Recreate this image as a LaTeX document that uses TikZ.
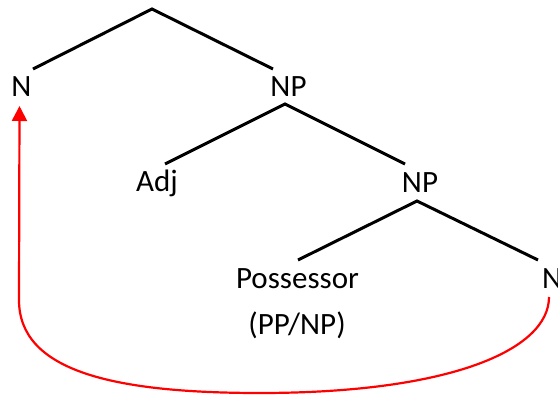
\documentclass[tikz,border=0pt]{standalone}
\usepackage{fontspec}
\setmainfont{Carlito}
\usetikzlibrary{arrows.meta}
\begin{document}
\begin{tikzpicture}[x=1pt,y=-1pt,
  lab/.style={anchor=base,inner sep=0pt,font=\fontsize{31}{37}\selectfont},
  branch/.style={line width=3pt,black},
  link/.style={red,line width=2.2pt,-{Triangle[length=15pt,width=15pt]}}]
\useasboundingbox (0,0) rectangle (558,396);
% labels
\node[lab] (nl) at (21.5,97) {N};
\node[lab] (np1) at (288.5,97) {NP};
\node[lab] (adj) at (157,192) {Adj};
\node[lab] (np2) at (420,193) {NP};
\node[lab] (poss) at (297.5,288) {Possessor};
\node[lab] (ppnp) at (297,334) {(PP/NP)};
\node[lab,anchor=base west] (nr) at (542,288) {N};
% branch end points
\coordinate (root) at (152,9);
\coordinate (nltop) at (33,69);
\coordinate (np1top) at (273,69);
\coordinate (np1bot) at (285,104);
\coordinate (adjtop) at (165,164);
\coordinate (np2top) at (405,164);
\coordinate (np2bot) at (417,201);
\coordinate (posstop) at (298,260);
\coordinate (nrtop) at (538,260);
% link end points
\coordinate (nrbot) at (549,297);
\coordinate (bend) at (19,300);
\coordinate (nlbot) at (19.5,106);
% branches
\draw[branch] (nltop) -- (root) -- (np1top);
\draw[branch] (adjtop) -- (np1bot) -- (np2top);
\draw[branch] (posstop) -- (np2bot) -- (nrtop);
% link
\draw[link] (nrbot) .. controls (549,350) and (450,393) .. (260,393)
  .. controls (110,393) and (19,370) .. (bend) -- (nlbot);
\end{tikzpicture}
\end{document}
